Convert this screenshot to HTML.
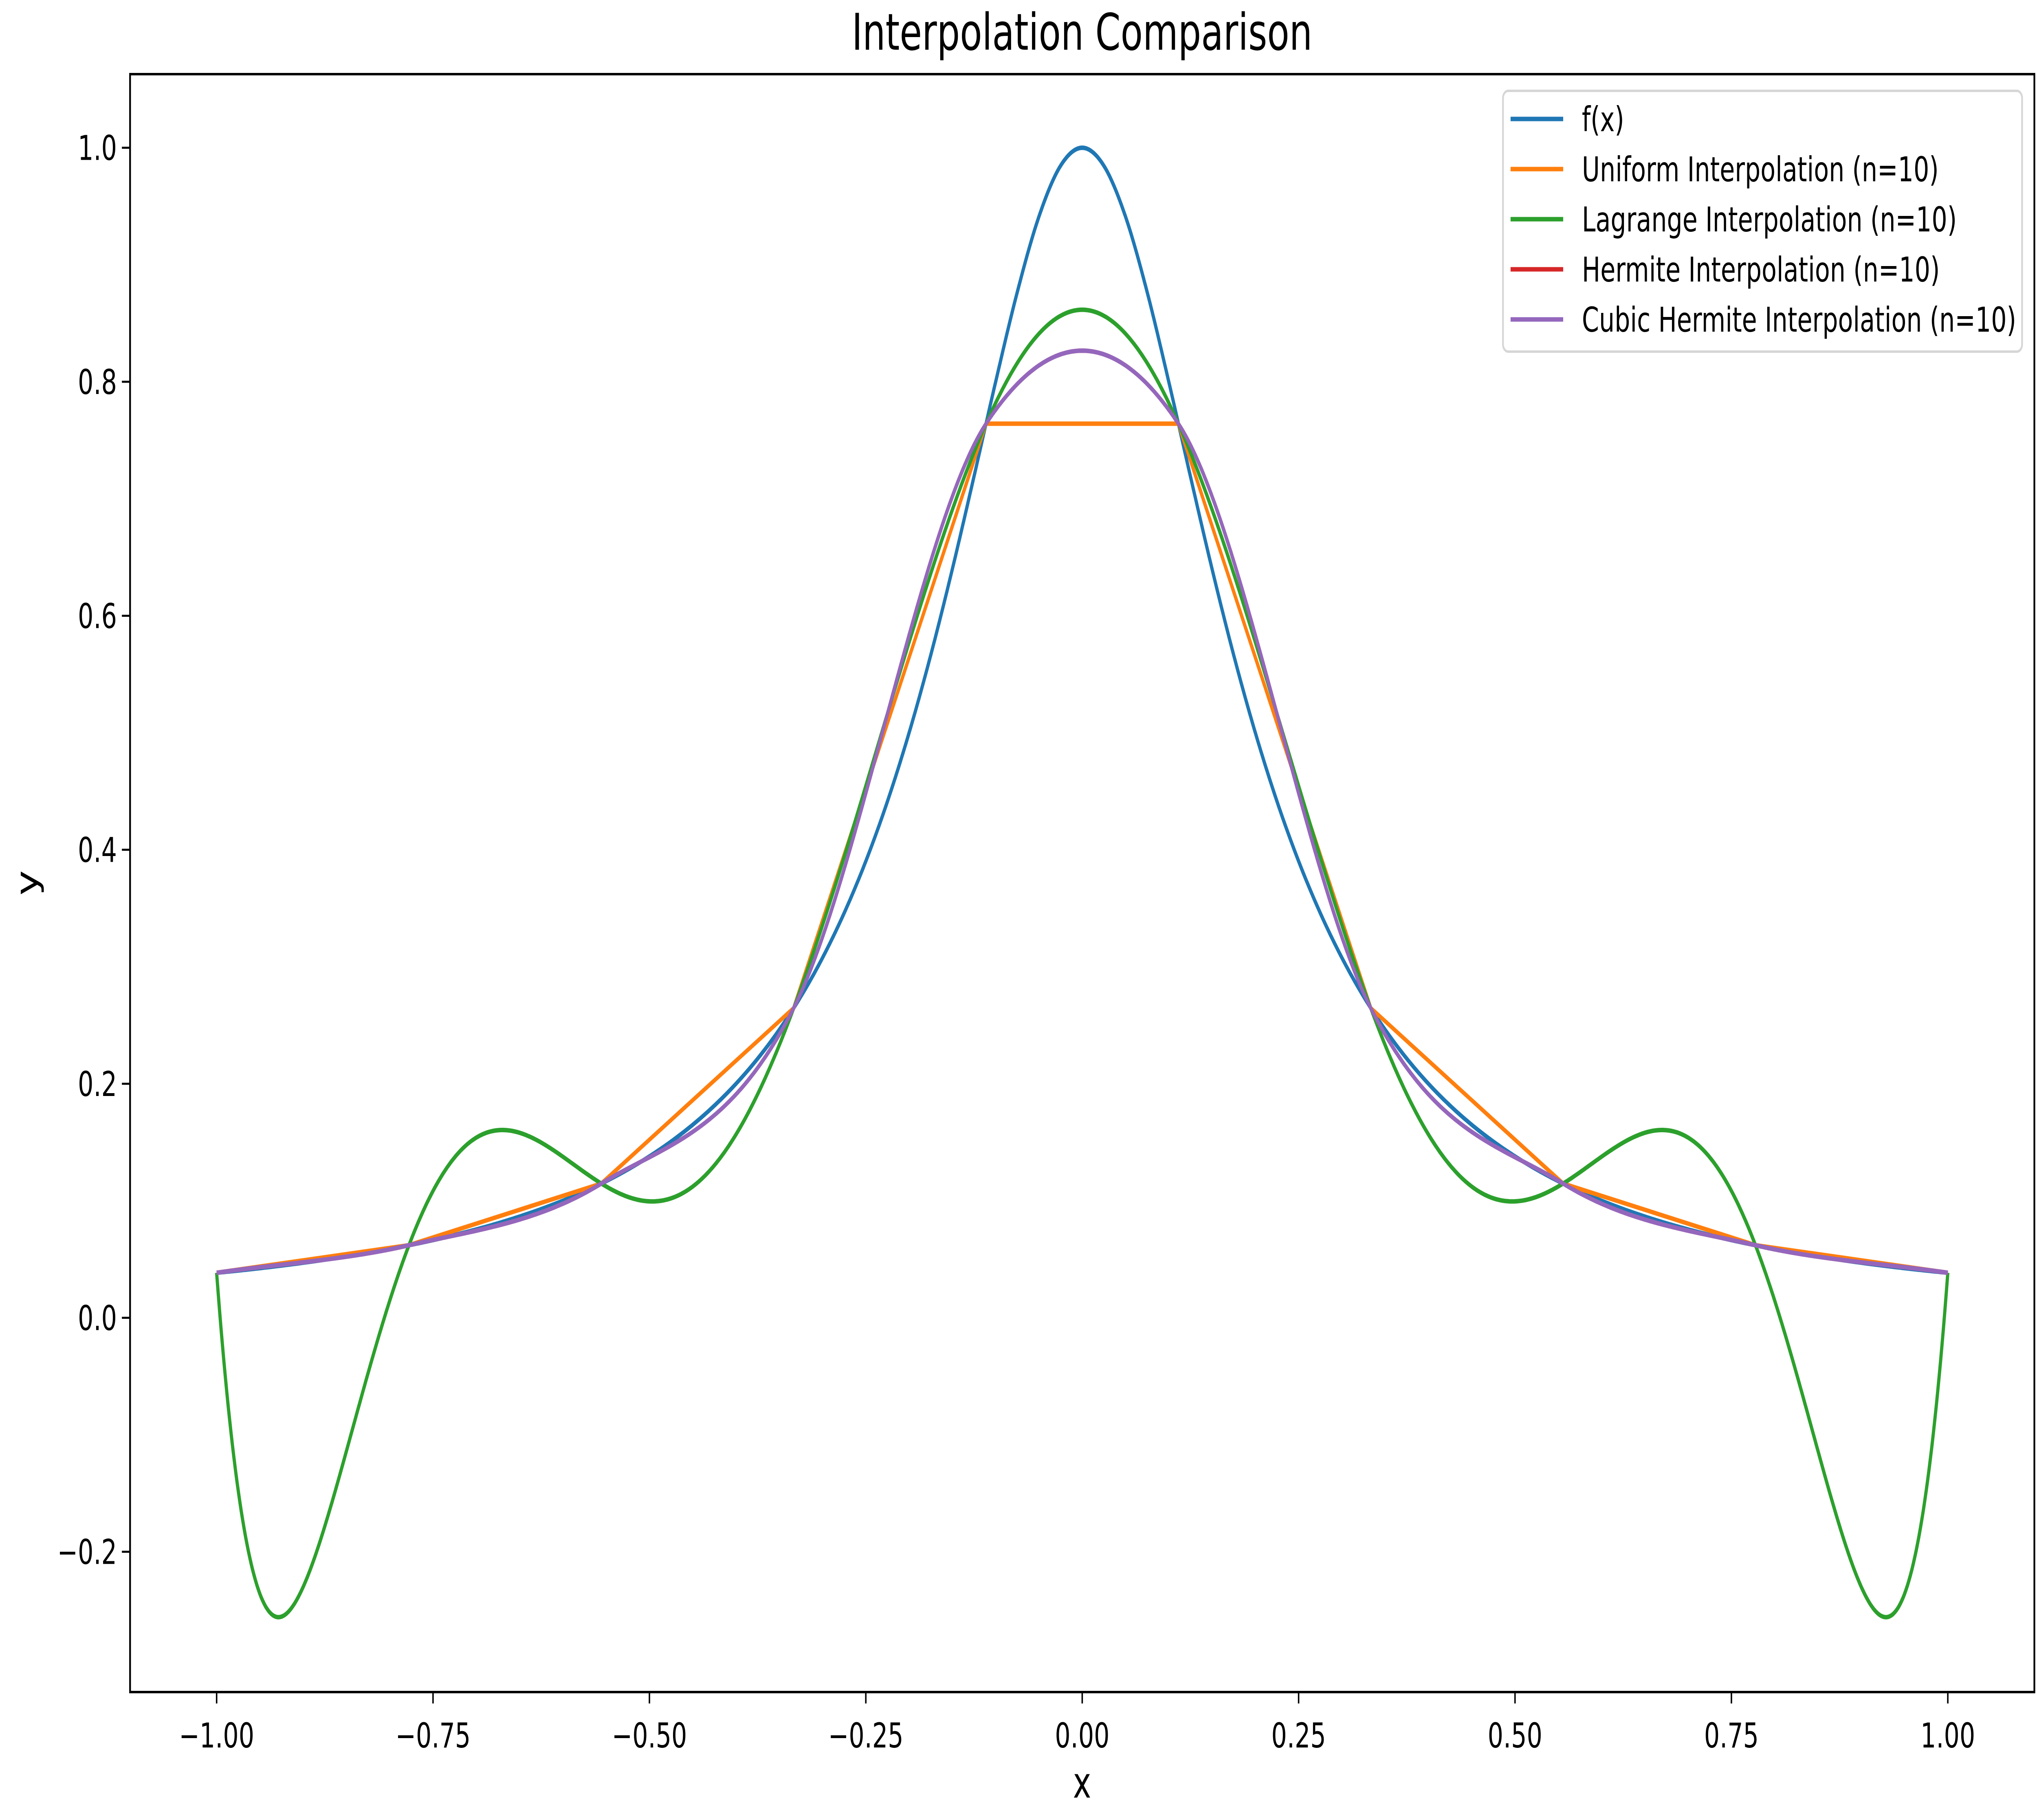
<!DOCTYPE html>
<html><head><meta charset="utf-8"><style>
html,body{margin:0;padding:0;background:#fff;width:100vw;height:100vh;overflow:hidden;}
svg{display:block;width:100vw;height:100vh;font-family:"DejaVu Sans","Liberation Sans",sans-serif;}
</style></head><body>
<svg id="chart" viewBox="0 0 6969 4467" preserveAspectRatio="none" xmlns="http://www.w3.org/2000/svg">
<rect width="6969" height="4467" fill="#fff"/>
<text x="3702" y="122" font-size="124" text-anchor="middle">Interpolation Comparison</text>
<text x="3702" y="4412" font-size="105" text-anchor="middle">x</text>
<text transform="translate(128,2167) rotate(-90)" font-size="105" text-anchor="middle">y</text>
<g id="plot"></g>
<rect x="445" y="182" width="6515" height="3971" fill="none" stroke="#000" stroke-width="6"/>
<g id="ticks"></g>
<g id="legend"></g>
</svg>
<script>
// ---- data ----
const nodeX = [-1, -0.77778, -0.55556, -0.33333, -0.11111, 0.11111, 0.33333, 0.55556, 0.77778, 1];
const nodeY = [0.03846, 0.06202, 0.11473, 0.26471, 0.76415, 0.76415, 0.26471, 0.11473, 0.06202, 0.03846];
const fHalfX = [0,0.025,0.05,0.075,0.1,0.125,0.15,0.175,0.2,0.225,0.25,0.275,0.3,0.325,0.35,0.375,0.4,0.425,0.45,0.475,0.5,0.525,0.55,0.575,0.6,0.625,0.65,0.675,0.7,0.725,0.75,0.775,0.8,0.825,0.85,0.875,0.9,0.925,0.95,0.975,1];
const fHalfY = [1,0.98462,0.94118,0.87671,0.8,0.7191,0.64,0.56637,0.5,0.44138,0.39024,0.34595,0.30769,0.27468,0.24615,0.22145,0.2,0.1813,0.16495,0.15059,0.13793,0.12673,0.11679,0.10793,0.1,0.09289,0.08649,0.0807,0.07547,0.07072,0.06639,0.06244,0.05882,0.05551,0.05246,0.04966,0.04706,0.04466,0.04244,0.04038,0.03846];
const xTicks = [-1, -0.75, -0.5, -0.25, 0, 0.25, 0.5, 0.75, 1];
const xTickLabels = ["−1.00","−0.75","−0.50","−0.25","0.00","0.25","0.50","0.75","1.00"];
const yTicks = [-0.2, 0, 0.2, 0.4, 0.6, 0.8, 1.0];
const yTickLabels = ["−0.2","0.0","0.2","0.4","0.6","0.8","1.0"];
const legendLabels = ["f(x)","Uniform Interpolation (n=10)","Lagrange Interpolation (n=10)","Hermite Interpolation (n=10)","Cubic Hermite Interpolation (n=10)"];
const seriesColors = ["#1f77b4","#ff7f0e","#2ca02c","#d62728","#9467bd"];

// ---- axes ----
const L=445,R=6960,T=182,B=4153;
const xMin=-1.1,xMax=1.1,yMin=-0.3199,yMax=1.0629;
const sx=v=>L+(v-xMin)/(xMax-xMin)*(R-L);
const sy=v=>B-(v-yMin)/(yMax-yMin)*(B-T);
const NS="http://www.w3.org/2000/svg";
function mk(tag,attrs,parent){const e=document.createElementNS(NS,tag);for(const k in attrs)e.setAttribute(k,attrs[k]);parent.appendChild(e);return e;}

const fX=[],fY=[];
for(let i=fHalfX.length-1;i>0;i--){fX.push(-fHalfX[i]);fY.push(fHalfY[i]);}
for(let i=0;i<fHalfX.length;i++){fX.push(fHalfX[i]);fY.push(fHalfY[i]);}

function gradient(xs,ys){const n=xs.length,g=[];for(let i=0;i<n;i++){if(i===0)g.push((ys[1]-ys[0])/(xs[1]-xs[0]));else if(i===n-1)g.push((ys[n-1]-ys[n-2])/(xs[n-1]-xs[n-2]));else g.push((ys[i+1]-ys[i-1])/(xs[i+1]-xs[i-1]));}return g;}
function hermiteEval(xs,ys,ms,x){let k=0;while(k<xs.length-2&&x>xs[k+1])k++;const h=xs[k+1]-xs[k],t=(x-xs[k])/h;const t2=t*t,t3=t2*t;
return (2*t3-3*t2+1)*ys[k]+(t3-2*t2+t)*h*ms[k]+(-2*t3+3*t2)*ys[k+1]+(t3-t2)*h*ms[k+1];}
function lagrangeEval(xs,ys,x){let s=0;for(let i=0;i<xs.length;i++){let p=ys[i];for(let j=0;j<xs.length;j++)if(j!==i)p*=(x-xs[j])/(xs[i]-xs[j]);s+=p;}return s;}

const plot=document.getElementById('plot');
const N=1200;
function curve(fn){let d="";for(let i=0;i<=N;i++){const x=-1+2*i/N;d+=(i?"L":"M")+sx(x).toFixed(1)+","+sy(fn(x)).toFixed(1);}return d;}
const fSlopes=gradient(fX,fY);
const nodeSlopes=gradient(nodeX,nodeY);
const paths=[
 curve(x=>hermiteEval(fX,fY,fSlopes,x)),
 nodeX.map((x,i)=>(i?"L":"M")+sx(x).toFixed(1)+","+sy(nodeY[i]).toFixed(1)).join(""),
 curve(x=>lagrangeEval(nodeX,nodeY,x)),
 curve(x=>hermiteEval(nodeX,nodeY,nodeSlopes,x)),
 curve(x=>hermiteEval(nodeX,nodeY,nodeSlopes,x))
];
const seriesNames=["series-fx","series-uniform","series-lagrange","series-hermite","series-cubic-hermite"];
paths.forEach((d,i)=>{
 const p=mk('path',{d:d,fill:"none",stroke:seriesColors[i],"stroke-width":11,"stroke-linejoin":"round"},plot);
 
 
});

const tk=document.getElementById('ticks');
xTicks.forEach((v,i)=>{
 const l=mk('line',{x1:sx(v),x2:sx(v),y1:B,y2:B+28,stroke:"#000","stroke-width":5},tk);
 
 
 const t=mk('text',{x:sx(v),y:B+136,"font-size":84,"text-anchor":"middle"},tk);
 t.textContent=xTickLabels[i];
 
 
});
yTicks.forEach((v,i)=>{
 const l=mk('line',{x1:L-28,x2:L,y1:sy(v),y2:sy(v),stroke:"#000","stroke-width":5},tk);
 
 
 const t=mk('text',{x:L-45,y:sy(v)+30,"font-size":84,"text-anchor":"end"},tk);
 t.textContent=yTickLabels[i];
 
 
});

const lg=document.getElementById('legend');
const box=mk('rect',{x:5142,y:223,width:1776,height:640,rx:18,fill:"#fff","fill-opacity":0.8,stroke:"#d6d6d6","stroke-width":6},lg);


legendLabels.forEach((lab,i)=>{
 const y=292+i*123;
 const h=mk('line',{x1:5168,x2:5348,y1:y,y2:y,stroke:seriesColors[i],"stroke-width":11},lg);
 
 
 const t=mk('text',{x:5412,y:y+30,"font-size":84},lg);
 t.textContent=lab;
 
 
});
</script>
</body></html>
